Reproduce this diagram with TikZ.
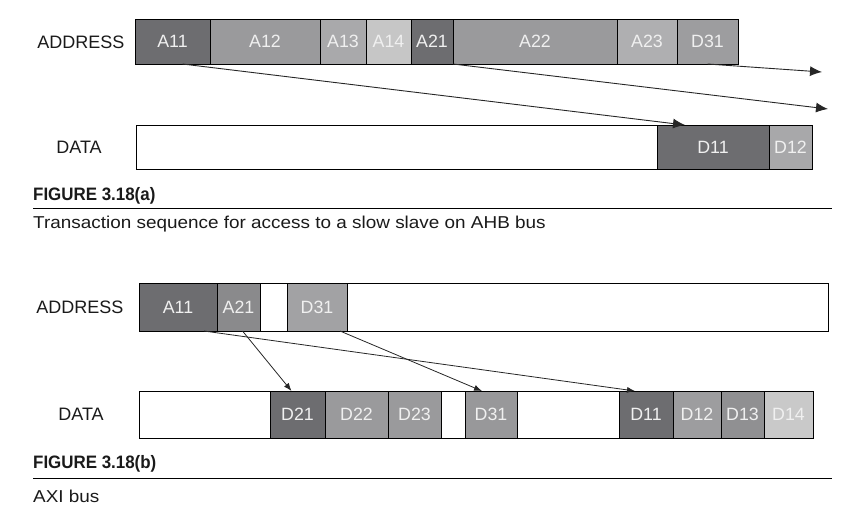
\documentclass[tikz,border=0pt]{standalone}
\usepackage{fontspec}
\setmainfont{Liberation Sans}
\newfontfamily\capfont[FakeStretch=1.1]{Liberation Sans}
\newfontfamily\headfont[FakeStretch=0.94]{Liberation Sans}
\usetikzlibrary{arrows.meta}
\definecolor{cdark}{HTML}{6D6D70}
\definecolor{cmed}{HTML}{9A9A9C}
\definecolor{cla}{HTML}{A9A9AB}
\definecolor{clb}{HTML}{C6C6C6}
\definecolor{clc}{HTML}{AFAFB1}
\definecolor{cld}{HTML}{9D9D9F}
\definecolor{cle}{HTML}{A8A8AA}
\definecolor{clf}{HTML}{8A8A8C}
\definecolor{clg}{HTML}{A2A2A4}
\definecolor{clh}{HTML}{909092}
\definecolor{cli}{HTML}{C9C9C9}
\definecolor{txt}{HTML}{1A1A1A}
\begin{document}
\begin{tikzpicture}[x=1pt,y=-1pt,
  cell/.style={draw=black, line width=1pt, anchor=north west, inner sep=0pt, outer sep=0pt,
    minimum width=#1, text=white!94!black, font=\fontsize{17.8}{20}\selectfont},
  rowlabel/.style={text=txt, inner sep=0pt, font=\fontsize{18}{20}\selectfont},
  fighead/.style={anchor=base west, inner sep=0pt, text=txt, font=\fontsize{18}{20}\selectfont\headfont\bfseries},
  figcap/.style={anchor=base west, inner sep=0pt, text=txt, font=\fontsize{17.2}{20}\selectfont\capfont},
  rule/.style={line width=1.3pt, black},
  bigarrow/.style={-{Latex[length=12pt,width=10pt]}, line width=0.9pt, black!85},
  smallarrow/.style={-{Latex[length=8pt,width=6pt]}, line width=0.8pt, black!85}]
\useasboundingbox (0,0) rectangle (866,515);

% ---------- (a) ----------
\node[rowlabel] (addrA) at (81,42) {ADDRESS};
\begin{scope}[every node/.append style={minimum height=45pt}]
\node[cell=75pt, fill=cdark] (a11) at (135,19) {A11};
\node[cell=110pt, fill=cmed] (a12) at (210,19) {A12};
\node[cell=46pt, fill=cla] (a13) at (320,19) {A13};
\node[cell=45pt, fill=clb] (a14) at (366,19) {A14};
\node[cell=42pt, fill=cdark] (a21) at (411,19) {A21};
\node[cell=164pt, fill=cmed] (a22) at (453,19) {A22};
\node[cell=60pt, fill=clc] (a23) at (617,19) {A23};
\node[cell=61pt, fill=cld] (d31a) at (677,19) {D31};
\end{scope}

\node[rowlabel] (dataA) at (79,147) {DATA};
\begin{scope}[every node/.append style={minimum height=44pt}]
\node[cell=676pt, fill=white] (framedA) at (136,125) {};
\node[cell=112pt, fill=cdark] (d11a) at (657,125) {D11};
\node[cell=43pt, fill=cle] (d12a) at (769,125) {D12};
\end{scope}

\coordinate (endA21) at (828,109);
\coordinate (endD31) at (822,72);
\draw[bigarrow] ([xshift=10pt]a11.south) -- ([xshift=-28pt]d11a.north);
\draw[bigarrow] (a21.south east) -- (endA21);
\draw[bigarrow] (d31a.south) -- (endD31);

\node[fighead] (figA) at (33,200) {FIGURE 3.18(a)};
\draw[rule] (33,208.3) -- (832,208.3);
\node[figcap] (capA) at (33,228) {Transaction sequence for access to a slow slave on AHB bus};

% ---------- (b) ----------
\node[rowlabel] (addrB) at (80,307) {ADDRESS};
\begin{scope}[every node/.append style={minimum height=48pt}]
\node[cell=689pt, fill=white] (frameaB) at (139,283) {};
\node[cell=78pt, fill=cdark] (a11b) at (139,283) {A11};
\node[cell=43pt, fill=clf] (a21b) at (217,283) {A21};
\node[cell=60pt, fill=clg] (d31b) at (287,283) {D31};
\end{scope}

\node[rowlabel] (dataB) at (81,414) {DATA};
\begin{scope}[every node/.append style={minimum height=47pt}]
\node[cell=674pt, fill=white] (framedB) at (139,391) {};
\node[cell=55pt, fill=cdark] (d21b) at (270,391) {D21};
\node[cell=63pt, fill=cmed] (d22b) at (325,391) {D22};
\node[cell=53pt, fill=cmed] (d23b) at (388,391) {D23};
\node[cell=52pt, fill=cld!97!black] (d31bd) at (465,391) {D31};
\node[cell=54pt, fill=cdark] (d11b) at (619,391) {D11};
\node[cell=48pt, fill=cld] (d12b) at (673,391) {D12};
\node[cell=43pt, fill=clh] (d13b) at (721,391) {D13};
\node[cell=49pt, fill=cli] (d14b) at (764,391) {D14};
\end{scope}

\draw[smallarrow] ([xshift=26pt]a11b.south) -- ([xshift=-11pt]d11b.north);
\draw[smallarrow] ([xshift=4pt]a21b.south) -- ([xshift=-6pt]d21b.north);
\draw[smallarrow] ([xshift=23pt]d31b.south) -- ([xshift=-9pt]d31bd.north);

\node[fighead] (figB) at (33,468) {FIGURE 3.18(b)};
\draw[rule] (33,478.3) -- (832,478.3);
\node[figcap] (capB) at (33,502) {AXI bus};
\end{tikzpicture}
\end{document}
